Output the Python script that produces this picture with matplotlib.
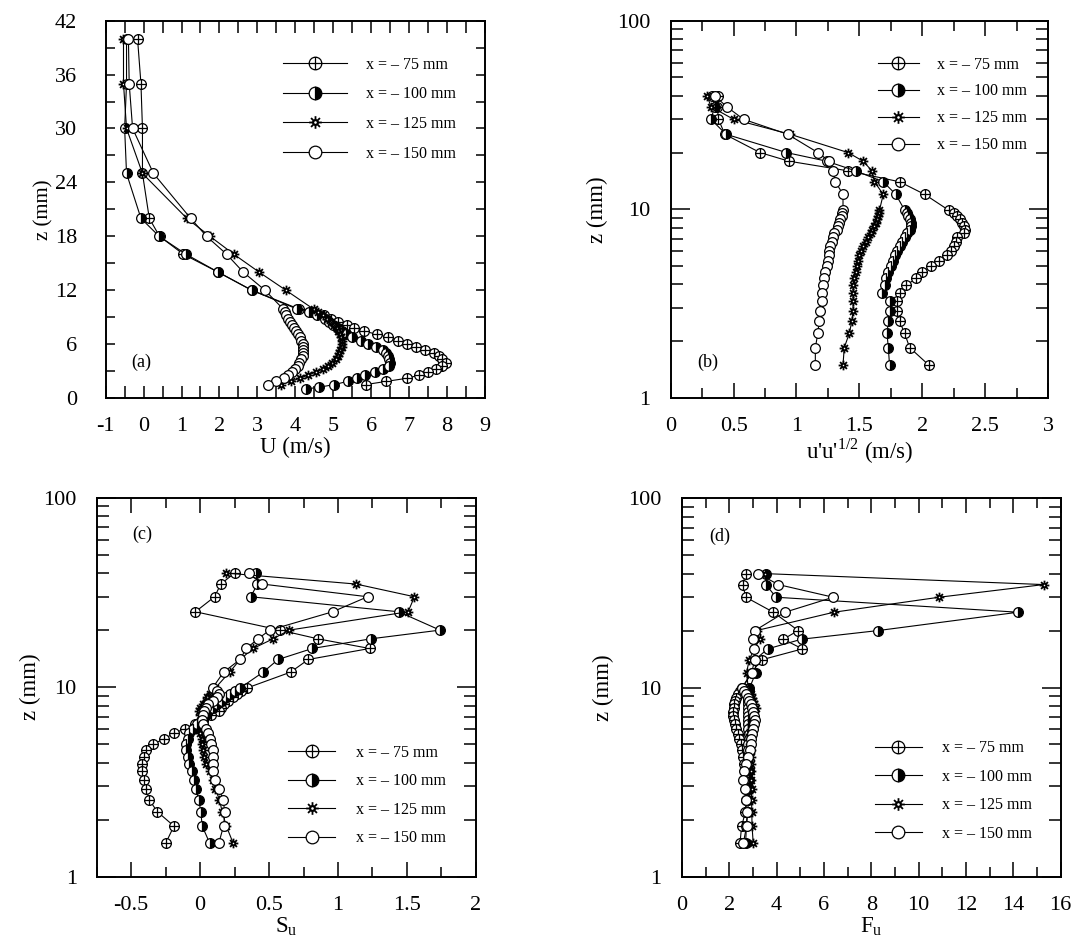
import numpy as np
import matplotlib.pyplot as plt
from matplotlib.path import Path
from matplotlib.ticker import MultipleLocator, FixedLocator, LogLocator, NullFormatter, FuncFormatter

plt.rcParams['font.family'] = ['Liberation Serif', 'DejaVu Serif']
plt.rcParams['mathtext.fontset'] = 'custom'
plt.rcParams['mathtext.rm'] = 'Liberation Serif'
plt.rcParams['axes.unicode_minus'] = False

# measurement heights z (mm)
z_top = [40, 35, 30, 25, 20, 18, 16, 14, 12]
z_low = [9.9, 9.55, 9.2, 8.85, 8.5, 8.15, 7.8, 7.45, 7.1, 6.75, 6.4, 6.05, 5.7,
         5.35, 5.0, 4.65, 4.3, 3.95, 3.6, 3.25, 2.9, 2.55, 2.2, 1.85, 1.5]
z = z_top + z_low
z_a100 = z + [1.2, 1.0]

labels = ['x = \u2013 75 mm', 'x = \u2013 100 mm', 'x = \u2013 125 mm', 'x = \u2013 150 mm']

# (a) mean velocity U (m/s)
a_75 = [-0.16, -0.07, -0.03, -0.03, 0.15, 0.42, 1.05, 1.97, 2.85,
        4.10, 4.45, 4.75, 4.95, 5.12, 5.36, 5.55, 5.80, 6.15, 6.45, 6.70, 6.95, 7.18,
        7.42, 7.65, 7.80, 7.86, 7.98, 7.88, 7.70, 7.50, 7.27, 6.95, 6.40, 5.86]
a_100 = [-0.45, -0.45, -0.50, -0.45, -0.07, 0.41, 1.12, 1.97, 2.85,
         4.05, 4.36, 4.58, 4.77, 4.90, 5.00, 5.12, 5.23, 5.34, 5.50, 5.72, 5.92, 6.12,
         6.30, 6.38, 6.45, 6.48, 6.50, 6.46, 6.30, 6.10, 5.83, 5.62, 5.38, 5.03, 4.63, 4.27]
a_125 = [-0.53, -0.53, -0.45, -0.03, 1.14, 1.75, 2.38, 3.05, 3.75,
         4.48, 4.60, 4.72, 4.83, 4.94, 5.03, 5.09, 5.13, 5.17, 5.20, 5.23, 5.23, 5.22,
         5.19, 5.16, 5.12, 5.06, 4.96, 4.85, 4.74, 4.55, 4.33, 4.12, 3.88, 3.62]
a_150 = [-0.40, -0.38, -0.29, 0.26, 1.24, 1.66, 2.19, 2.63, 3.20,
         3.68, 3.72, 3.76, 3.80, 3.86, 3.92, 3.97, 4.02, 4.07, 4.12, 4.16, 4.19, 4.21,
         4.21, 4.21, 4.19, 4.15, 4.11, 4.06, 4.00, 3.92, 3.82, 3.70, 3.50, 3.29]

# (b) rms u'u'^1/2 (m/s)
b_75 = [0.38, 0.37, 0.38, 0.43, 0.71, 0.94, 1.41, 1.82, 2.02,
        2.21, 2.25, 2.28, 2.30, 2.32, 2.33, 2.34, 2.33, 2.28, 2.27, 2.25, 2.23, 2.20,
        2.13, 2.07, 2.00, 1.95, 1.87, 1.82, 1.80, 1.80, 1.82, 1.86, 1.90, 2.05]
b_100 = [0.33, 0.35, 0.32, 0.44, 0.92, 1.24, 1.47, 1.69, 1.79,
         1.86, 1.88, 1.89, 1.90, 1.91, 1.91, 1.90, 1.88, 1.86, 1.84, 1.82, 1.80, 1.78,
         1.77, 1.75, 1.73, 1.71, 1.70, 1.68, 1.74, 1.74, 1.73, 1.72, 1.73, 1.74]
b_125 = [0.29, 0.32, 0.50, 0.95, 1.41, 1.53, 1.60, 1.62, 1.69,
         1.66, 1.66, 1.65, 1.64, 1.63, 1.62, 1.60, 1.59, 1.57, 1.55, 1.53, 1.51, 1.50,
         1.49, 1.48, 1.47, 1.46, 1.45, 1.45, 1.45, 1.45, 1.44, 1.42, 1.38, 1.37]
b_150 = [0.35, 0.445, 0.58, 0.93, 1.17, 1.26, 1.29, 1.31, 1.37,
         1.37, 1.36, 1.36, 1.35, 1.34, 1.33, 1.32, 1.30, 1.29, 1.28, 1.27, 1.26, 1.26,
         1.25, 1.24, 1.23, 1.22, 1.21, 1.20, 1.20, 1.19, 1.18, 1.17, 1.15, 1.15]

# (c) skewness S_u
c_75 = [0.25, 0.15, 0.105, -0.034, 0.58, 0.853, 1.23, 0.785, 0.656,
        0.34, 0.30, 0.27, 0.24, 0.20, 0.17, 0.15, 0.14, 0.08, 0.02, -0.04, -0.11, -0.19,
        -0.26, -0.34, -0.39, -0.41, -0.42, -0.42, -0.41, -0.39, -0.37, -0.31, -0.19, -0.25]
c_100 = [0.408, 0.416, 0.367, 1.44, 1.74, 1.24, 0.814, 0.566, 0.457,
         0.29, 0.25, 0.22, 0.19, 0.16, 0.12, 0.09, 0.06, 0.04, 0.02, -0.02, -0.05, -0.08,
         -0.09, -0.10, -0.10, -0.09, -0.08, -0.06, -0.045, -0.03, -0.01, 0.005, 0.015, 0.07]
c_125 = [0.19, 1.132, 1.555, 1.509, 0.646, 0.53, 0.384, 0.29, 0.214,
         0.11, 0.09, 0.07, 0.05, 0.04, 0.02, 0.0, -0.01, 0.0, 0.01, 0.01, 0.005, 0.0,
         0.01, 0.015, 0.02, 0.025, 0.045, 0.07, 0.09, 0.11, 0.14, 0.16, 0.19, 0.24]
c_150 = [0.352, 0.452, 1.215, 0.962, 0.505, 0.42, 0.335, 0.29, 0.17,
         0.09, 0.12, 0.14, 0.12, 0.09, 0.06, 0.04, 0.03, 0.02, 0.01, 0.02, 0.04, 0.06,
         0.07, 0.08, 0.09, 0.095, 0.097, 0.097, 0.11, 0.14, 0.165, 0.18, 0.17, 0.135]

# (d) flatness F_u
d_75 = [2.70, 2.56, 2.70, 3.86, 4.91, 4.28, 5.09, 3.36, 2.94,
        2.55, 2.45, 2.35, 2.30, 2.25, 2.20, 2.18, 2.17, 2.17, 2.18, 2.22, 2.28, 2.35,
        2.42, 2.50, 2.55, 2.58, 2.62, 2.65, 2.68, 2.70, 2.70, 2.68, 2.52, 2.45]
d_100 = [3.55, 3.55, 3.97, 14.2, 8.29, 5.05, 3.62, 3.08, 3.12,
         2.85, 2.83, 2.81, 2.80, 2.79, 2.79, 2.80, 2.81, 2.81, 2.80, 2.80, 2.81, 2.82,
         2.82, 2.81, 2.80, 2.80, 2.81, 2.82, 2.83, 2.83, 2.81, 2.78, 2.72, 2.69]
d_125 = [3.50, 15.28, 10.86, 6.42, 3.15, 3.29, 3.05, 2.84, 2.73,
         2.80, 2.85, 2.90, 2.95, 3.00, 3.05, 3.12, 3.05, 3.00, 2.95, 2.92, 2.90, 2.88,
         2.88, 2.88, 2.90, 2.90, 2.92, 2.92, 2.93, 2.94, 2.94, 2.95, 2.96, 3.01]
d_150 = [3.22, 4.07, 6.39, 4.35, 3.08, 3.01, 3.04, 3.08, 2.94,
         2.52, 2.60, 2.70, 2.78, 2.85, 2.90, 2.95, 3.00, 3.05, 3.08, 3.05, 3.00, 2.95,
         2.92, 2.90, 2.88, 2.80, 2.70, 2.62, 2.59, 2.65, 2.72, 2.75, 2.73, 2.59]

# marker shapes
circ = Path.unit_circle()
cross = Path([(-1, 0), (1, 0), (0, -1), (0, 1)],
             [Path.MOVETO, Path.LINETO, Path.MOVETO, Path.LINETO])
oplus = Path.make_compound_path(circ, cross)
vv, cc = [], []
for k in range(8):
    a = k * np.pi / 4
    vv += [(0.35 * np.cos(a), 0.35 * np.sin(a)), (np.cos(a), np.sin(a))]
    cc += [Path.MOVETO, Path.LINETO]
sun = Path.make_compound_path(Path(circ.vertices * 0.35, circ.codes), Path(vv, cc))

styles = [dict(marker=oplus, mfc='white', mew=0.9),
          dict(marker='o', fillstyle='right', mfc='black', mfcalt='white', mew=0.9),
          dict(marker=sun, mfc='white', mew=1.3),
          dict(marker='o', mfc='white', mew=0.9)]


def draw(ax, xs, zs):
    for vals, zz, st, lab in zip(xs, zs, styles, labels):
        ax.plot(vals, zz, color='black', lw=0.8, ms=7, mec='black', label=lab, **st)


def style(ax, ypad, logy=True):
    for s in ax.spines.values():
        s.set_linewidth(1.4)
    ax.tick_params(which='both', direction='in', top=True, right=True, width=1.1,
                   labelsize=16)
    ax.tick_params(axis='x', which='both', pad=14)
    ax.tick_params(axis='y', which='both', pad=ypad)
    if logy:
        ax.set_yscale('log')
        ax.set_ylim(1, 100)
        ax.yaxis.set_major_locator(FixedLocator([1, 10, 100]))
        ax.yaxis.set_major_formatter(FuncFormatter(lambda v, p: '%g' % v))
        ax.yaxis.set_minor_locator(LogLocator(base=10, subs=range(2, 10)))
        ax.yaxis.set_minor_formatter(NullFormatter())
        ax.tick_params(axis='y', which='major', length=14)
        ax.tick_params(axis='y', which='minor', length=8.5)
        ax.tick_params(axis='x', which='major', length=10.8)
        ax.tick_params(axis='x', which='minor', length=7.2)
    ax.xaxis.set_major_formatter(FuncFormatter(lambda v, p: '%g' % v))


def legend(ax, x0, y0, hl, tp, ls):
    ax.legend(loc='upper left', bbox_to_anchor=(x0, y0), frameon=False, fontsize=11.5,
              handlelength=hl, handletextpad=tp, labelspacing=ls, borderpad=0,
              borderaxespad=0, markerscale=1.3)


fig = plt.figure(figsize=(10.75, 9.49), dpi=100)

# (a)
ax = fig.add_axes([0.0983, 0.5806, 0.3528, 0.3976])
draw(ax, [a_75, a_100, a_125, a_150], [z, z_a100, z, z])
style(ax, 20.5, logy=False)
ax.set_xlim(-1, 9)
ax.set_ylim(0, 42)
ax.xaxis.set_major_locator(MultipleLocator(1))
ax.xaxis.set_minor_locator(MultipleLocator(0.5))
ax.yaxis.set_major_locator(MultipleLocator(6))
ax.yaxis.set_minor_locator(MultipleLocator(3))
ax.tick_params(axis='x', which='both', length=8.6)
ax.tick_params(axis='y', which='both', length=6.5)
ax.set_xlabel('U (m/s)', fontsize=16.5, labelpad=0)
ax.set_ylabel('z (mm)', fontsize=15, labelpad=1)
ax.text(0.094, 0.094, '(a)', transform=ax.transAxes, ha='center', va='center', fontsize=13)
legend(ax, 0.467, 0.905, 4.05, 1.18, 0.86)

# (b)
ax = fig.add_axes([0.6239, 0.5806, 0.3510, 0.3976])
draw(ax, [b_75, b_100, b_125, b_150], [z, z, z, z])
style(ax, 14.9)
ax.set_xlim(0, 3)
ax.xaxis.set_major_locator(MultipleLocator(0.5))
ax.xaxis.set_minor_locator(MultipleLocator(0.25))
ax.set_xlabel("u'u'$^{\\mathregular{1/2}}$ (m/s)", fontsize=16.5, labelpad=0)
ax.set_ylabel('z (mm)', fontsize=16.5, labelpad=6)
ax.text(0.0975, 0.094, '(b)', transform=ax.transAxes, ha='center', va='center', fontsize=13)
legend(ax, 0.549, 0.905, 2.55, 1.18, 0.68)

# (c)
ax = fig.add_axes([0.0900, 0.0762, 0.3526, 0.3994])
draw(ax, [c_75, c_100, c_125, c_150], [z, z, z, z])
style(ax, 14.4)
ax.set_xlim(-0.75, 2.0)
ax.xaxis.set_major_locator(MultipleLocator(0.5))
ax.xaxis.set_minor_locator(MultipleLocator(0.25))
ax.set_xlabel('S$_{\\mathregular{u}}$', fontsize=16.5, labelpad=0)
ax.set_ylabel('z (mm)', fontsize=16.5, labelpad=2)
ax.text(0.121, 0.903, '(c)', transform=ax.transAxes, ha='center', va='center', fontsize=13)
legend(ax, 0.504, 0.348, 2.98, 1.27, 0.78)

# (d)
ax = fig.add_axes([0.6344, 0.0762, 0.3523, 0.3987])
draw(ax, [d_75, d_100, d_125, d_150], [z, z, z, z])
style(ax, 14.8)
ax.set_xlim(0, 16)
ax.xaxis.set_major_locator(MultipleLocator(2))
ax.xaxis.set_minor_locator(MultipleLocator(1))
ax.set_xlabel('F$_{\\mathregular{u}}$', fontsize=16.5, labelpad=0)
ax.set_ylabel('z (mm)', fontsize=16.5, labelpad=10)
ax.text(0.099, 0.90, '(d)', transform=ax.transAxes, ha='center', va='center', fontsize=13)
legend(ax, 0.509, 0.36, 2.94, 1.3, 0.78)

fig.savefig('out.png', dpi=100)
